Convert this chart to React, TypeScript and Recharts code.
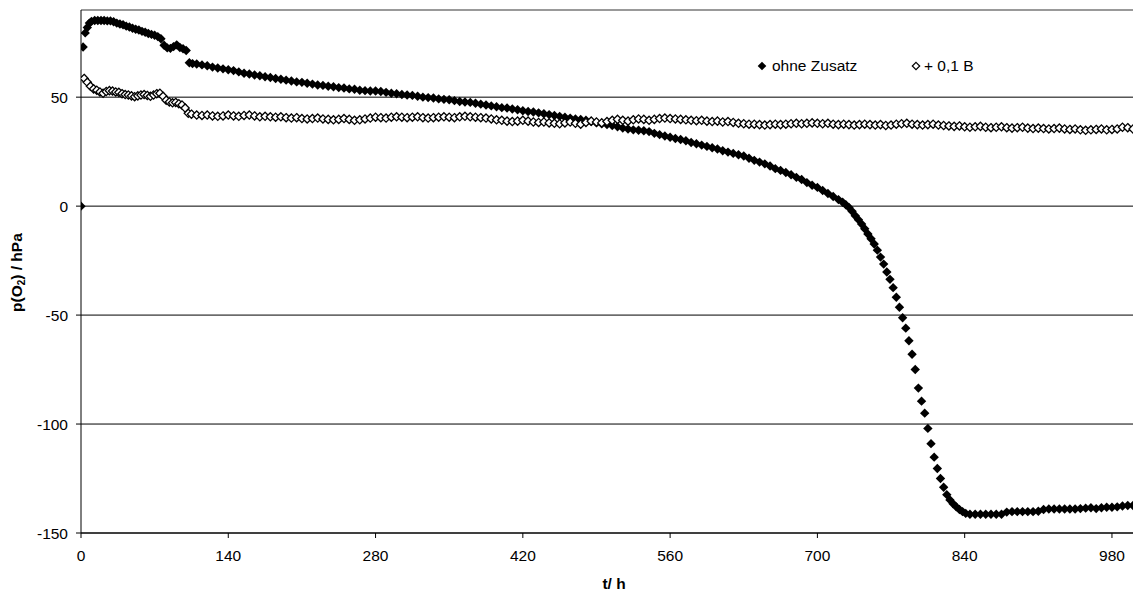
import React from 'react';
import { ScatterChart, Scatter, XAxis, YAxis, CartesianGrid, ReferenceLine, Legend, Label } from 'recharts';

// [t in h, p(O2) in hPa]
const OHNE_ZUSATZ: [number, number][] = [
    [0, 0], [2, 73], [4, 79.5], [6, 82], [8, 84], [10, 84.8], [13, 85.2], [16, 85.2], [19, 85.2], [22, 85.2],
    [25, 85], [28, 85], [31, 84.6], [34, 84], [37, 83.6], [40, 83.2], [43, 82.6], [46, 82.2], [49, 81.6], [52, 81.2],
    [55, 80.8], [58, 80.2], [61, 79.8], [64, 79.2], [67, 78.8], [70, 78.4], [73, 77.8], [76, 76.8], [79, 73.8], [82, 72.6],
    [85, 72.4], [88, 73.2], [91, 74], [94, 72.8], [97, 72.2], [100, 71.4], [103, 65.8], [106, 65.4],
    [110, 65.2], [115, 64.8], [120, 64.4], [125, 63.8], [130, 63.4], [135, 63], [140, 62.6], [145, 62.2], [150, 61.6], [155, 61],
    [160, 60.6], [165, 60.2], [170, 59.8], [175, 59.4], [180, 59], [185, 58.6], [190, 58.2], [195, 57.8], [200, 57.4], [205, 57],
    [210, 56.8], [215, 56.4], [220, 56], [225, 55.6], [230, 55.4], [235, 55], [240, 54.8], [245, 54.4], [250, 54.2], [255, 53.8],
    [260, 53.6], [265, 53.2], [270, 53], [275, 52.8], [280, 52.8], [285, 52.6], [290, 52.2], [295, 51.8], [300, 51.6], [305, 51.2],
    [310, 51], [315, 50.8], [320, 50.4], [325, 50], [330, 49.8], [335, 49.6], [340, 49.2], [345, 49], [350, 48.8], [355, 48.4],
    [360, 48], [365, 47.8], [370, 47.6], [375, 47.2], [380, 46.8], [385, 46.4], [390, 46], [395, 45.6], [400, 45.2], [405, 45],
    [410, 44.6], [415, 44.2], [420, 43.8], [425, 43.4], [430, 43.2], [435, 42.8], [440, 42.4], [445, 42], [450, 41.6], [455, 41.2],
    [460, 40.8], [465, 40.4], [470, 40], [475, 39.8], [480, 39.4], [485, 38.8], [490, 38.2], [495, 37.8], [500, 37.4], [505, 37],
    [510, 36.4], [515, 35.8], [520, 35.4], [525, 35], [530, 34.8], [535, 34.6], [540, 34.2], [545, 33.4], [550, 32.8], [555, 32.2],
    [560, 31.6], [565, 31], [570, 30.6], [575, 30], [580, 29.2], [585, 28.6], [590, 28], [595, 27.4], [600, 26.8], [605, 26.2],
    [610, 25.4], [615, 24.8], [620, 24.2], [625, 23.6], [630, 23], [635, 22], [640, 21], [645, 20.2], [650, 19.4], [655, 18.4],
    [660, 17.2], [665, 16.4], [670, 15.4], [675, 14.4], [680, 13.2], [685, 12.2], [690, 10.8], [695, 9.6], [700, 8.6], [705, 7.2],
    [710, 5.8], [715, 4.4], [720, 3], [724, 1.8], [727, 0.6], [730, -0.6], [733, -2.4], [736, -4.4], [739, -6.2], [742, -8.2],
    [745, -10.4], [748, -12.8], [751, -15], [754, -17.4], [757, -20.2], [760, -23.4], [763, -26.6], [766, -30.2], [769, -33.6], [772, -37.4],
    [775, -41.8], [778, -46.4], [781, -51.2], [784, -56], [787, -61.8], [790, -68], [793, -75], [796, -83.5], [799, -89.5], [802, -95],
    [805, -102], [808, -109], [811, -115.2], [814, -120.4], [817, -125], [820, -129], [823, -132.4], [826, -134.8], [829, -136.6], [832, -138],
    [835, -139.2], [838, -140.2], [841, -141], [845, -141.4], [850, -141.4], [855, -141.4], [860, -141.4], [865, -141.4], [870, -141.4], [875, -141.4],
    [880, -140.4], [885, -140.2], [890, -140.2], [895, -140.2], [900, -140.2], [905, -140.2], [910, -140], [915, -139.2], [920, -139], [925, -139],
    [930, -139], [935, -139], [940, -139], [945, -139], [950, -138.8], [955, -138.6], [960, -138.4], [965, -138.8], [970, -138.4], [975, -138.2],
    [980, -138.2], [985, -138], [990, -137.6], [995, -137.4], [1000, -137.4],
];

const PLUS_01_B: [number, number][] = [
    [3, 58.6], [6, 56.8], [9, 55], [12, 53.8], [15, 53.2], [18, 52.4], [21, 51.8], [24, 52.6], [27, 53], [30, 52.8],
    [33, 52.4], [36, 52.2], [39, 51.6], [42, 51.2], [45, 51], [48, 50.6], [51, 50.2], [54, 50.6], [57, 51], [60, 51.2],
    [63, 50.8], [66, 50.4], [69, 51], [72, 51.6], [75, 51.8], [78, 50.4], [81, 48.6], [84, 47.8], [87, 47.4], [90, 47.6],
    [93, 47], [96, 46.4], [99, 45], [102, 42.6], [105, 42.2],
    [110, 41.8], [115, 41.6], [120, 41.8], [125, 41.4], [130, 41.2], [135, 41.4], [140, 41.8], [145, 41.4], [150, 41.2], [155, 41.6],
    [160, 41.8], [165, 41.4], [170, 41], [175, 41.2], [180, 41], [185, 40.8], [190, 41], [195, 40.6], [200, 40.4], [205, 40.6],
    [210, 40.2], [215, 40], [220, 40.2], [225, 40.4], [230, 40], [235, 39.8], [240, 39.6], [245, 39.8], [250, 40.2], [255, 39.8],
    [260, 39.4], [265, 39.6], [270, 40], [275, 40.4], [280, 40.8], [285, 40.6], [290, 40.4], [295, 40.8], [300, 41], [305, 40.8],
    [310, 40.6], [315, 40.8], [320, 41], [325, 40.6], [330, 40.4], [335, 40.6], [340, 40.8], [345, 41], [350, 40.8], [355, 40.6],
    [360, 41], [365, 41.2], [370, 41], [375, 40.8], [380, 40.6], [385, 40.4], [390, 40], [395, 39.6], [400, 39.4], [405, 39],
    [410, 38.8], [415, 39], [420, 39.4], [425, 39], [430, 38.6], [435, 38.4], [440, 38.6], [445, 38.2], [450, 38], [455, 37.8],
    [460, 38.2], [465, 38.6], [470, 38], [475, 37.6], [480, 38.4], [485, 39], [490, 38.6], [495, 38.2], [500, 38.8], [505, 39.4],
    [510, 39.8], [515, 39.4], [520, 39], [525, 39.6], [530, 40], [535, 39.8], [540, 39.4], [545, 39.8], [550, 40.2], [555, 40.4],
    [560, 40.2], [565, 40], [570, 39.8], [575, 39.6], [580, 39.4], [585, 39.2], [590, 39.4], [595, 39], [600, 38.8], [605, 39],
    [610, 38.6], [615, 38.8], [620, 38.4], [625, 38], [630, 37.8], [635, 37.6], [640, 37.6], [645, 37.4], [650, 37.2], [655, 37.4],
    [660, 37.6], [665, 37.4], [670, 37.6], [675, 37.8], [680, 38], [685, 37.8], [690, 38], [695, 38.2], [700, 38], [705, 37.8],
    [710, 38], [715, 37.6], [720, 37.4], [725, 37.6], [730, 37.4], [735, 37.2], [740, 37.4], [745, 37.6], [750, 37.4], [755, 37.2],
    [760, 37.4], [765, 37], [770, 37.2], [775, 37.6], [780, 37.8], [785, 38], [790, 37.6], [795, 37.4], [800, 37.2], [805, 37.4],
    [810, 37.6], [815, 37.2], [820, 37], [825, 36.8], [830, 36.6], [835, 36.8], [840, 36.4], [845, 36.2], [850, 36.4], [855, 36.6],
    [860, 36.2], [865, 36], [870, 36.2], [875, 36.4], [880, 36], [885, 35.8], [890, 36], [895, 36.2], [900, 35.8], [905, 35.6],
    [910, 35.8], [915, 35.6], [920, 35.4], [925, 35.6], [930, 35.8], [935, 35.4], [940, 35.2], [945, 35.4], [950, 35], [955, 34.8],
    [960, 35], [965, 35.2], [970, 35.4], [975, 35], [980, 35.2], [985, 35.4], [990, 36.2], [995, 36], [1000, 35.4],
];

const X_TICKS = [0, 140, 280, 420, 560, 700, 840, 980];
const Y_TICKS = [-150, -100, -50, 0, 50];

const FONT = "'Liberation Sans', Arial, sans-serif";
const FS = 15.5;

const diamondPath = (cx: number, cy: number, r: number) =>
    `M${cx},${cy - r}L${cx + r},${cy}L${cx},${cy + r}L${cx - r},${cy}Z`;

const FilledDiamond = (props: any) => {
    const { cx, cy } = props;
    if (cx == null || cy == null) return null;
    return <path d={diamondPath(cx, cy, 4.7)} fill="#000" />;
};

const HollowDiamond = (props: any) => {
    const { cx, cy } = props;
    if (cx == null || cy == null) return null;
    return <path d={diamondPath(cx, cy, 4.1)} fill="#fff" stroke="#000" strokeWidth={1.3} />;
};

const YTitle = () => (
    <text transform="translate(22,312) rotate(-90)" fontSize={FS} fontWeight="bold" fontFamily={FONT} fill="#000">
        p(O<tspan fontSize={10} dy={3}>2</tspan><tspan dy={-3}>) / hPa</tspan>
    </text>
);

const XTitle = () => (
    <text x={614} y={589} textAnchor="middle" fontSize={FS} fontWeight="bold" fontFamily={FONT} fill="#000">
        t/ h
    </text>
);

const LegendBox = () => (
    <div style={{ position: 'relative', width: 240, height: 20, fontFamily: FONT, fontSize: FS, lineHeight: '20px', color: '#000' }}>
        <svg width={10} height={10} style={{ position: 'absolute', left: 7, top: 5 }}>
            <path d={diamondPath(5, 5, 4.3)} fill="#000" />
        </svg>
        <span style={{ position: 'absolute', left: 22, top: 0, whiteSpace: 'nowrap' }}>ohne Zusatz</span>
        <svg width={10} height={10} style={{ position: 'absolute', left: 160.5, top: 5 }}>
            <path d={diamondPath(5, 5, 3.7)} fill="#fff" stroke="#000" strokeWidth={1.2} />
        </svg>
        <span style={{ position: 'absolute', left: 174, top: 0, whiteSpace: 'nowrap' }}>+ 0,1 B</span>
    </div>
);

export default function App() {
    const ohne = OHNE_ZUSATZ.map(([t, v]) => ({ t, v }));
    const plusB = PLUS_01_B.map(([t, v]) => ({ t, v }));
    const tickStyle = { fill: '#000', fontSize: FS, fontFamily: FONT };

    return (
        <div style={{ position: 'fixed', left: 0, top: 0, width: 1133, height: 591, background: '#fff', fontFamily: FONT }}>
            <ScatterChart width={1133} height={591} margin={{ top: 10, right: 0, bottom: 0, left: 0 }}>
                <CartesianGrid vertical={false} horizontal={{ shapeRendering: 'crispEdges' } as any} stroke="#000" strokeWidth={1} />
                <ReferenceLine y={90} stroke="#999" strokeWidth={2} />
                <XAxis
                    type="number"
                    dataKey="t"
                    domain={[0, 1000]}
                    ticks={X_TICKS}
                    allowDataOverflow
                    height={58}
                    tickSize={5}
                    tickMargin={12}
                    tick={tickStyle}
                    stroke="#000"
                    axisLine={{ stroke: '#000' }}
                    tickLine={{ stroke: '#000' }}
                >
                    <Label content={<XTitle />} />
                </XAxis>
                <YAxis
                    type="number"
                    dataKey="v"
                    domain={[-150, 90]}
                    ticks={Y_TICKS}
                    allowDataOverflow
                    width={81}
                    tickSize={5}
                    tickMargin={8}
                    tick={tickStyle}
                    stroke="#000"
                    axisLine={{ stroke: '#000' }}
                    tickLine={{ stroke: '#000' }}
                >
                    <Label content={<YTitle />} />
                </YAxis>
                <Legend
                    layout="horizontal"
                    verticalAlign="middle"
                    align="center"
                    wrapperStyle={{ left: 750, top: 56, width: 240, height: 20 }}
                    content={() => <LegendBox />}
                />
                <Scatter name="ohne Zusatz" data={ohne} shape={<FilledDiamond />} isAnimationActive={false} />
                <Scatter name="+ 0,1 B" data={plusB} shape={<HollowDiamond />} isAnimationActive={false} />
            </ScatterChart>
        </div>
    );
}
